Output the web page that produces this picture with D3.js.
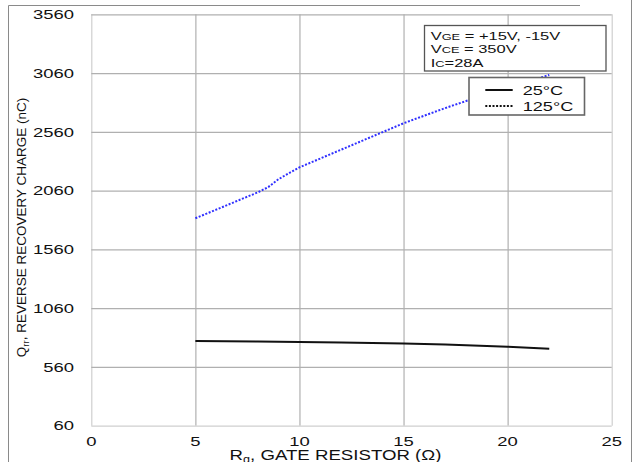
<!DOCTYPE html>
<html>
<head>
<meta charset="utf-8">
<script src="https://cdn.jsdelivr.net/npm/d3@7"></script>
<style>
  html, body { margin: 0; padding: 0; background: #fff; }
  svg { display: block; font-family: "Liberation Sans", Arial, sans-serif; }
</style>
</head>
<body>
<svg id="chart" width="636" height="462"></svg>
<script>
// ---- data ----
const xTicks = [0, 5, 10, 15, 20, 25];
const yTicks = [60, 560, 1060, 1560, 2060, 2560, 3060, 3560];
const rg25 = [5, 8, 10, 12, 15, 17, 20, 22];
const qrr25 = [780, 776, 772, 768, 760, 750, 732, 715];
const rg125 = [5, 6, 7, 8, 8.5, 9, 10, 11, 12, 13, 14, 15, 16, 17, 18, 19, 20, 21, 22];
const qrr125 = [1825, 1898, 1972, 2045, 2090, 2158, 2258, 2333, 2408, 2483, 2558, 2633, 2698, 2762, 2822, 2878, 2935, 2990, 3044];
const seriesNames = ["25°C", "125°C"];
const conditions = [["V", "GE", " = +15V, -15V"], ["V", "CE", " = 350V"], ["I", "C", "=28A"]];

const svg = d3.select("#chart");
const x = d3.scaleLinear().domain([0, 25]).range([91.3, 611.7]);
const y = d3.scaleLinear().domain([60, 3560]).range([425.7, 14.3]);
const SX = 1.42;

// outer frame
svg.append("path").attr("d", "M8.5,462 V5.5 H580").attr("fill", "none").attr("stroke", "#8a8a8a").attr("stroke-width", 1);
svg.append("line").attr("x1", 631.5).attr("x2", 631.5).attr("y1", 0).attr("y2", 462).attr("stroke", "#8a8a8a");

// plot bg + grid
const g = svg.append("g");
g.append("rect").attr("x", x(0)).attr("y", y(3560)).attr("width", x(25) - x(0)).attr("height", y(60) - y(3560)).attr("fill", "#fff");

g.append("g").attr("transform", `translate(0,${y(60)})`)
  .call(d3.axisBottom(x).tickValues(xTicks).tickSize(-(y(60) - y(3560))).tickFormat(""))
  .call(s => s.select(".domain").remove())
  .call(s => s.selectAll(".tick line").attr("stroke", d => (d === 0 || d === 25) ? "#cfcfcf" : "#b0b0b0").attr("stroke-width", 1.2));
g.append("g").attr("transform", `translate(${x(0)},0)`)
  .call(d3.axisLeft(y).tickValues(yTicks).tickSize(-(x(25) - x(0))).tickFormat(""))
  .call(s => s.select(".domain").remove())
  .call(s => s.selectAll(".tick line").attr("stroke", d => (d === 60) ? "#cfcfcf" : "#b0b0b0").attr("stroke-width", 1.2));

function stretchText(parent, tx, ty, txt, size, anchor, sx) {
  return parent.append("text")
    .attr("transform", `translate(${tx},${ty}) scale(${sx},1)`)
    .attr("text-anchor", anchor).attr("font-size", size).attr("fill", "#111").text(txt);
}

// tick labels
xTicks.forEach(t => stretchText(svg, x(t), 446, String(t), 13, "middle", SX));
yTicks.forEach(t => stretchText(svg, 74, y(t) + 4.7, String(t), 13, "end", SX));

// axis titles
const xt = svg.append("text").attr("transform", `translate(335.5,459.5) scale(1.26,1)`)
  .attr("text-anchor", "middle").attr("font-size", 14.8).attr("fill", "#111");
xt.append("tspan").text("R");
xt.append("tspan").attr("font-size", 10).attr("dy", 3).text("g");
xt.append("tspan").attr("dy", -3).text(", GATE RESISTOR (Ω)");

const yt = svg.append("text").attr("transform", `translate(26,227.5) rotate(-90)`)
  .attr("text-anchor", "middle").attr("font-size", 13.5).attr("fill", "#111");
yt.append("tspan").text("Q");
yt.append("tspan").attr("font-size", 9.5).attr("dy", 3).text("rr");
yt.append("tspan").attr("dy", -3).text(", REVERSE RECOVERY CHARGE (nC)");

// lines
const line = d3.line().x(d => x(d[0])).y(d => y(d[1]));
svg.append("path").datum(rg125.map((r, i) => [r, qrr125[i]]))
  .attr("d", line).attr("fill", "none").attr("stroke", "#3030ff").attr("stroke-width", 2).attr("stroke-dasharray", "2,1.6");
svg.append("path").datum(rg25.map((r, i) => [r, qrr25[i]]))
  .attr("d", line).attr("fill", "none").attr("stroke", "#111").attr("stroke-width", 2);

// conditions box
svg.append("rect").attr("x", 424.5).attr("y", 25.5).attr("width", 181.5).attr("height", 45.5)
  .attr("fill", "#fff").attr("stroke", "#555").attr("stroke-width", 1.3);
conditions.forEach((c, i) => {
  const t = svg.append("text").attr("transform", `translate(430.7,${40 + i * 13.4}) scale(${SX},1)`)
    .attr("font-size", 11.6).attr("fill", "#111");
  t.append("tspan").text(c[0]);
  t.append("tspan").attr("font-size", 9).text(c[1]);
  t.append("tspan").text(c[2]);
});

// legend
svg.append("rect").attr("x", 469).attr("y", 77.5).attr("width", 115.5).attr("height", 37.5)
  .attr("fill", "#fff").attr("stroke", "#666").attr("stroke-width", 1.6);
svg.append("line").attr("x1", 485.3).attr("x2", 512.7).attr("y1", 90).attr("y2", 90).attr("stroke", "#111").attr("stroke-width", 2);
svg.append("line").attr("x1", 485.3).attr("x2", 512.7).attr("y1", 106).attr("y2", 106).attr("stroke", "#111").attr("stroke-width", 2).attr("stroke-dasharray", "2,1.6");
seriesNames.forEach((n, i) => stretchText(svg, 522.7, 94.5 + i * 16, n, 12.5, "start", 1.45));
</script>
</body>
</html>
